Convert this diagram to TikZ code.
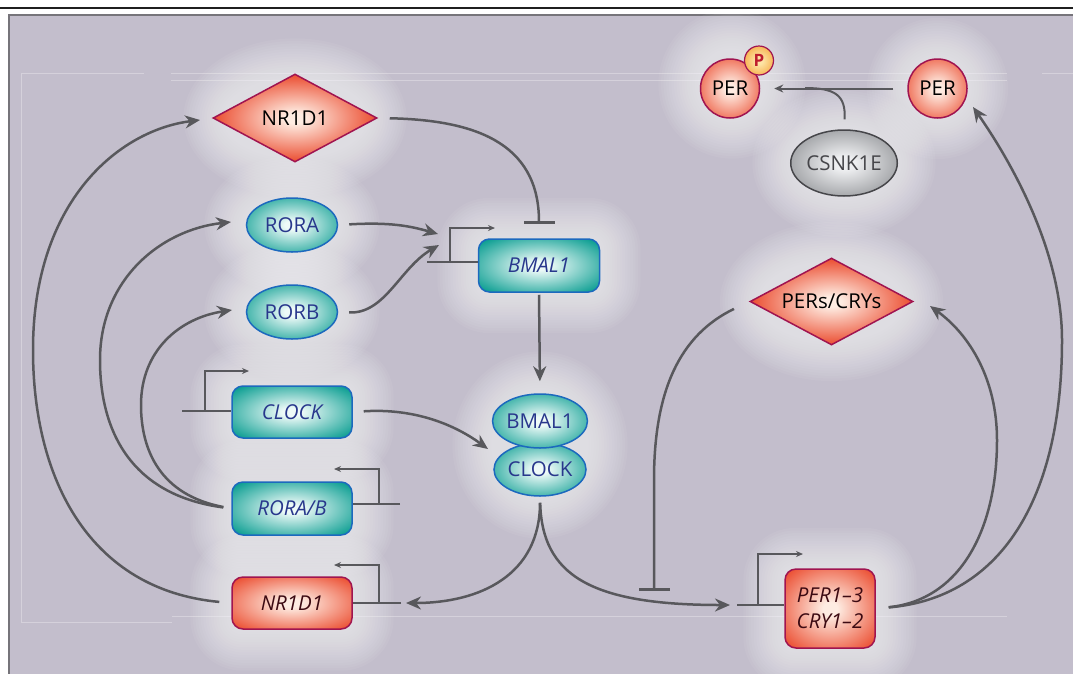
\documentclass[tikz,border=0pt]{standalone}
\usepackage{fontspec}
\setmainfont{Open Sans}
\usetikzlibrary{shapes.geometric,arrows.meta}
\definecolor{bgc}{RGB}{195,190,204}
\definecolor{framec}{RGB}{118,116,122}
\definecolor{lnc}{RGB}{88,88,92}
\definecolor{tealout}{RGB}{16,160,148}
\definecolor{tealin}{RGB}{238,250,248}
\definecolor{tealbd}{RGB}{28,105,190}
\definecolor{tealtx}{RGB}{40,55,140}
\definecolor{redout}{RGB}{236,84,56}
\definecolor{redin}{RGB}{254,236,226}
\definecolor{redbd}{RGB}{160,20,80}
\definecolor{redtx}{RGB}{60,10,18}
\definecolor{grayout}{RGB}{128,130,134}
\definecolor{grayin}{RGB}{238,239,241}
\definecolor{graybd}{RGB}{70,70,74}
\definecolor{graytx}{RGB}{70,70,74}
\definecolor{pout}{RGB}{245,160,50}
\definecolor{pin}{RGB}{253,228,165}
\definecolor{ptx}{RGB}{190,30,45}
\pgfdeclareradialshading{tealsh}{\pgfpointorigin}{color(0bp)=(tealin); color(4bp)=(tealin); color(32bp)=(tealout); color(75bp)=(tealout)}
\pgfdeclareradialshading{redsh}{\pgfpointorigin}{color(0bp)=(redin); color(4bp)=(redin); color(32bp)=(redout); color(75bp)=(redout)}
\pgfdeclareradialshading{reddsh}{\pgfpointorigin}{color(0bp)=(redin); color(3bp)=(redin); color(24bp)=(redout); color(75bp)=(redout)}
\pgfdeclareradialshading{graysh}{\pgfpointorigin}{color(0bp)=(grayin); color(5bp)=(grayin); color(36bp)=(grayout); color(75bp)=(grayout)}
\pgfdeclareradialshading{psh}{\pgfpointorigin}{color(0bp)=(pin); color(6bp)=(pin); color(34bp)=(pout); color(75bp)=(pout)}
% layered soft white halos
\newcommand{\glowell}[4]{\foreach \k in {1,...,16}{\fill[white, fill opacity=0.05] (#1,#2) ellipse ({#3+2.6*\k} and {#4+2.6*\k});}}
\newcommand{\glowbox}[4]{\foreach \k in {1,...,16}{\fill[white, fill opacity=0.05, rounded corners={10+2.6*\k}] ({#1-#3-2.6*\k},{#2-#4-2.6*\k}) rectangle ({#1+#3+2.6*\k},{#2+#4+2.6*\k});}}
\tikzset{
  nbase/.style={inner sep=0pt, line width=1.5pt, font=\fontsize{20.5}{24}\selectfont},
  tealn/.style={nbase, draw=tealbd, shade, shading=tealsh, text=tealtx},
  redn/.style={nbase, draw=redbd, shade, shading=redsh, text=redtx},
  redd/.style={nbase, draw=redbd, shade, shading=reddsh, text=black},
  grayn/.style={nbase, draw=graybd, shade, shading=graysh, text=graytx},
  genebox/.style={rectangle, rounded corners=11pt, font=\fontsize{20.5}{26}\selectfont\itshape},
  conn/.style={draw=lnc, line width=2.5pt},
  arr/.style={conn, -{Stealth[length=15pt,width=13pt]}},
  inh/.style={conn, -{Bar[width=31pt,line width=3.2pt]}},
  prom/.style={draw=lnc, line width=1.9pt},
  promarr/.style={prom, -{Stealth[length=7pt,width=6pt]}},
  thin/.style={draw=lnc, line width=2pt},
}
\begin{document}
\begin{tikzpicture}[x=1pt,y=-1pt]
\useasboundingbox (0,0) rectangle (1073,673);
% frame
\fill[bgc] (8,14) rectangle (1080,680);
\draw[framec, line width=2.5pt] (9,690) -- (9,15) -- (1090,15);
\draw[black!88, line width=2.4pt] (-5,7.8) -- (1080,7.8);
% faint guide lines
\begin{scope}[white, opacity=0.3, line width=0.8pt]
\draw (21,622) -- (21,73) -- (144,73);
\draw (171,73) -- (1007,73);
\draw (171,80) -- (1007,80);
\draw (1042,73) -- (1073,73);
\draw (21,622) -- (172,622);
\draw (172,616) -- (1007,616);
\end{scope}
% glows
\glowell{295}{118}{70}{38}
\glowell{292}{225}{46}{27}
\glowell{292}{312}{46}{27}
\glowbox{539}{265.5}{60}{26}
\glowbox{292}{412}{60}{26}
\glowbox{292}{508.5}{60}{26}
\glowbox{292}{603}{60}{26}
\glowell{540}{445}{46}{52}
\glowbox{830}{608.5}{45}{39}
\glowell{831.5}{301.5}{70}{38}
\glowell{937.5}{88.5}{29}{29}
\glowell{732}{84}{32}{33}
\glowell{844}{163}{50}{33}
% nodes
\node[redd, diamond, aspect=1.87, minimum width=164pt, minimum height=88pt] (nrd) at (295,118) {NR1D1};
\node[tealn, ellipse, minimum width=91pt, minimum height=54pt] (rora) at (292,225) {RORA};
\node[tealn, ellipse, minimum width=91pt, minimum height=54pt] (rorb) at (292,312) {RORB};
\node[tealn, genebox, minimum width=121pt, minimum height=53pt] (bmalg) at (539,265.5) {BMAL1};
\node[tealn, genebox, minimum width=120pt, minimum height=52pt] (clockg) at (292,412) {CLOCK};
\node[tealn, genebox, minimum width=120pt, minimum height=53pt] (rorabg) at (292,508.5) {RORA/B};
\node[redn, genebox, minimum width=120pt, minimum height=52pt] (nrg) at (292,603) {NR1D1};
\node[tealn, ellipse, minimum width=92pt, minimum height=53pt] (cclock) at (540,469.5) {CLOCK};
\node[tealn, ellipse, minimum width=92pt, minimum height=54pt] (cbmal) at (540,421) {BMAL1};
\node[redn, genebox, align=center, minimum width=90pt, minimum height=79pt] (perg) at (830,608.5) {PER1\textendash3\\CRY1\textendash2};
\node[redd, diamond, aspect=1.87, minimum width=163pt, minimum height=87pt] (pcd) at (831.5,301.5) {PERs/CRYs};
\node[redn, circle, text=black, minimum size=59pt] (per1) at (937.5,88.5) {PER};
\node[redn, circle, text=black, minimum size=59pt] (perp) at (730,88.5) {PER};
\node[circle, draw=redbd, line width=1.2pt, shade, shading=psh, text=ptx, font=\fontsize{17}{20}\selectfont\bfseries, minimum size=29pt, inner sep=0pt] (pp) at (759,60.5) {P};
\node[grayn, ellipse, minimum width=100pt, minimum height=66pt] (ck) at (844,163) {CSNK1E};
% free ends
\coordinate (binh) at (539,224);
\coordinate (rtipA) at (438,234);
\coordinate (rtipB) at (439,245);
\coordinate (ctip) at (488,449);
\coordinate (nrtip) at (406,603);
\coordinate (ptip) at (730,605);
\coordinate (pinh) at (654,591);
\coordinate (pctip) at (930,306);
\coordinate (p1tip) at (973,107);
\coordinate (ckj) at (805,88);
\coordinate (tipNRD) at (200,120);
\coordinate (tipRORA) at (231,222);
\coordinate (tipRORB) at (232,310);
% promoters
\coordinate (bp0) at (427,262); \coordinate (bp1) at (450,262); \coordinate (bp2) at (495,228);
\draw[prom] (bp0) -- (bp0 -| bmalg.west);
\draw[promarr] (bp1) |- (bp2);
\coordinate (cp0) at (182,411); \coordinate (cp1) at (205,411); \coordinate (cp2) at (249,371);
\draw[prom] (cp0) -- (cp0 -| clockg.west);
\draw[promarr] (cp1) |- (cp2);
\coordinate (rp0) at (400,504); \coordinate (rp1) at (379,504); \coordinate (rp2) at (334,469);
\draw[prom] (rp0) -- (rp0 -| rorabg.east);
\draw[promarr] (rp1) |- (rp2);
\coordinate (np0) at (401,603); \coordinate (np1) at (379,603); \coordinate (np2) at (334,565);
\draw[prom] (np0) -- (np0 -| nrg.east);
\draw[promarr] (np1) |- (np2);
\coordinate (pp0) at (737,605); \coordinate (pp1) at (758,605); \coordinate (pp2) at (803,554);
\draw[prom] (pp0) -- (pp0 -| perg.west);
\draw[promarr] (pp1) |- (pp2);
% connectors
\draw[inh, shorten <=12pt] (nrd.east) .. controls (470,120) and (539,140) .. (binh);
\draw[arr, shorten <=11pt] (rora.east) .. controls (390,222) and (410,226) .. (rtipA);
\draw[arr, shorten <=11pt] (rorb.east) .. controls (385,314) and (400,268) .. (rtipB);
\draw[arr, shorten <=11pt] (clockg.east) .. controls (415,408) and (455,425) .. (ctip);
\draw[arr, shorten <=2pt, shorten >=12pt] (bmalg.south) -- (cbmal.north);
\draw[arr, shorten <=6pt] (cclock.south) .. controls (540,575) and (480,603) .. (nrtip);
\draw[arr, shorten <=6pt] (cclock.south) .. controls (542,575) and (590,605) .. (ptip);
\draw[inh, shorten <=17pt] (pcd.west) .. controls (680,335) and (654,390) .. (654,480) -- (pinh);
\draw[arr, shorten <=13pt] (perg.east) .. controls (960,600) and (997,530) .. (997,440) .. controls (997,380) and (970,335) .. (pctip);
\draw[arr, shorten <=13pt] (perg.east) .. controls (1000,598) and (1062,500) .. (1062,340) .. controls (1062,250) and (1010,160) .. (p1tip);
\draw[arr, shorten <=12pt] (nrg.west) .. controls (90,590) and (33,480) .. (33,350) .. controls (33,200) and (120,130) .. (tipNRD);
\draw[arr, shorten <=8pt] (rorabg.west) .. controls (130,495) and (100,430) .. (100,360) .. controls (100,280) and (160,230) .. (tipRORA);
\draw[arr, shorten <=8pt] (rorabg.west) .. controls (160,495) and (141,450) .. (141,405) .. controls (141,350) and (180,318) .. (tipRORB);
\draw[thin, -{Stealth[length=9pt,width=8pt]}, shorten <=14pt, shorten >=14pt] (per1.west) -- (perp.east);
\draw[thin, shorten <=10pt] (ck.north) .. controls (846,95) and (835,88) .. (ckj);
\end{tikzpicture}
\end{document}
